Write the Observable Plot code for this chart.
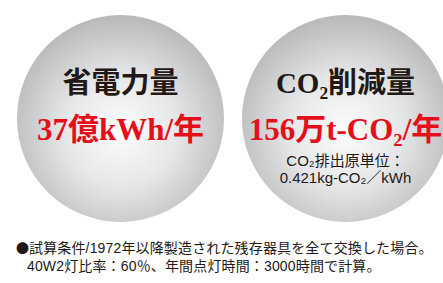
<!DOCTYPE html>
<html><head><meta charset="utf-8">
<script src="https://cdn.jsdelivr.net/npm/d3@7"></script>
<script src="https://cdn.jsdelivr.net/npm/@observablehq/plot@0.6"></script>
<style>
body{margin:0;background:#fff;width:443px;height:283px;overflow:hidden}
#foot{font-family:"Liberation Sans","Noto Sans CJK JP",sans-serif;font-size:14px;letter-spacing:0.15px;line-height:18px;color:#231815;margin-top:13px;padding-left:16px;white-space:nowrap}
#foot div.l2{padding-left:11px}
#foot .bullet{font-family:"Noto Sans CJK JP",sans-serif;font-size:13px;letter-spacing:0}
</style></head><body>
<div id="chart"></div>
<div id="foot"></div>
<script>
const items = ["省電力量", "CO₂削減量"];
const values = ["37億kWh/年", "156万t-CO₂/年"];
const noteLine1 = ["", "CO₂排出原単位："];
const noteLine2 = ["", "0.421kg-CO₂／kWh"];
const bullet = "●";
const footnotes = ["試算条件/1972年以降製造された残存器具を全て交換した場合。", "40W2灯比率：60％、年間点灯時間：3000時間で計算。"];

const data = items.map((d, i) => ({item: d, value: values[i], n1: noteLine1[i], n2: noteLine2[i], y: 0}));

const serif = "'Liberation Serif','Noto Sans CJK JP',serif";
const sans = "'Liberation Sans','Noto Sans CJK JP',sans-serif";

const plot = Plot.plot({
  width: 443, height: 226, margin: 0,
  x: {type: "point", domain: items, range: [120, 345], padding: 0, axis: null},
  y: {domain: [-1, 1], range: [221, 15], axis: null},
  marks: [
    Plot.dot(data, {x: "item", y: "y", r: 103.5, fill: "url(#ballGrad)", stroke: "none"}),
    Plot.text(data, {x: "item", y: "y", text: "item", dy: -35, fontSize: 29, fontWeight: "bold", fill: "#231815", fontFamily: serif}),
    Plot.text(data, {x: "item", y: "y", text: "value", dy: 12, fontSize: 31, fontWeight: "bold", fill: "#e50f1c", fontFamily: serif}),
    Plot.text(data, {x: "item", y: "y", text: "n1", dy: 43, fontSize: 15, fill: "#231815", fontFamily: sans}),
    Plot.text(data, {x: "item", y: "y", text: "n2", dy: 60, fontSize: 15, fill: "#231815", fontFamily: sans})
  ]
});
d3.select(plot).insert("defs", ":first-child").html(
  `<radialGradient id="ballGrad" cx="50%" cy="56%" r="55%">
     <stop offset="0" stop-color="#fdfdfd"/>
     <stop offset="0.5" stop-color="#e5e6e7"/>
     <stop offset="1" stop-color="#b9babc"/>
   </radialGradient>`);
d3.select(plot).selectAll("text").filter(function(){ return this.getAttribute("font-size") === "15"; }).style("letter-spacing", "0.9px");
document.getElementById("chart").appendChild(plot);
const foot = d3.select("#foot");
foot.selectAll("div").data(footnotes).join("div").attr("class", (d, i) => "l" + (i + 1)).each(function(d, i) {
  const div = d3.select(this);
  if (i === 0) div.append("span").attr("class", "bullet").text(bullet);
  div.append("span").text(d);
});
</script>
</body></html>
